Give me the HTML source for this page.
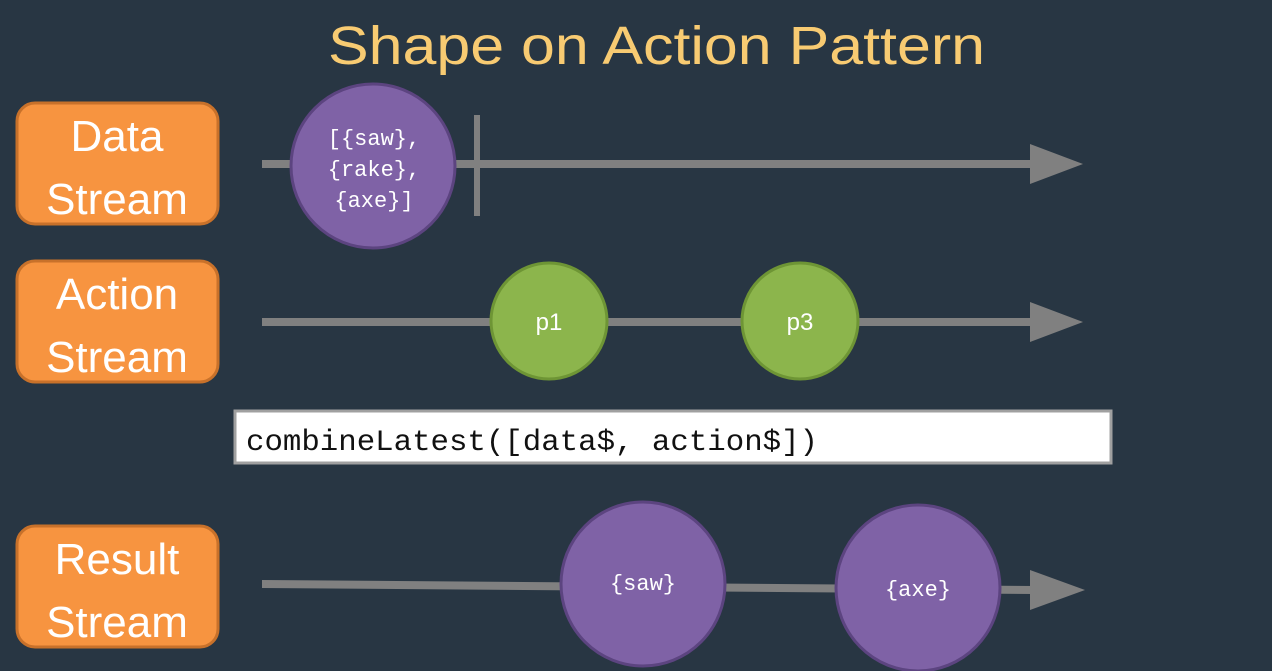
<!DOCTYPE html>
<html><head><meta charset="utf-8"><style>
html,body{margin:0;padding:0;background:#283643;}
svg{display:block;}
</style></head><body>
<svg width="1272" height="671" viewBox="0 0 1272 671" xmlns="http://www.w3.org/2000/svg">
<rect width="1272" height="671" fill="#283643"/>
<text x="328" y="64" font-family="Liberation Sans, sans-serif" font-size="54" fill="#f8cb72" textLength="657" lengthAdjust="spacingAndGlyphs">Shape on Action Pattern</text>

<g font-family="Liberation Sans, sans-serif" font-size="44" fill="#fff" text-anchor="middle">
<rect x="17" y="103" width="201" height="121" rx="18" fill="#f79440" stroke="#c8712a" stroke-width="3"/>
<text x="117" y="151">Data</text><text x="117" y="214">Stream</text>
<rect x="17" y="261" width="201" height="121" rx="18" fill="#f79440" stroke="#c8712a" stroke-width="3"/>
<text x="117" y="309">Action</text><text x="117" y="372">Stream</text>
<rect x="17" y="526" width="201" height="121" rx="18" fill="#f79440" stroke="#c8712a" stroke-width="3"/>
<text x="117" y="574">Result</text><text x="117" y="637">Stream</text>
</g>

<rect x="262" y="160" width="772" height="8" fill="#808080"/>
<polygon points="1030,144 1083,164 1030,184" fill="#808080"/>
<rect x="474" y="115" width="6" height="101" fill="#808080"/>
<circle cx="373" cy="166" r="82" fill="#7f62a6" stroke="#5c4480" stroke-width="3"/>
<g font-family="Liberation Mono, monospace" font-size="22" fill="#fff" text-anchor="middle">
<text x="374" y="145">[{saw},</text><text x="374" y="176">{rake},</text><text x="374" y="207">{axe}]</text>
</g>

<rect x="262" y="318" width="772" height="8" fill="#808080"/>
<polygon points="1030,302 1083,322 1030,342" fill="#808080"/>
<circle cx="549" cy="321" r="58" fill="#8cb54c" stroke="#6e9535" stroke-width="3"/>
<circle cx="800" cy="321" r="58" fill="#8cb54c" stroke="#6e9535" stroke-width="3"/>
<g font-family="Liberation Sans, sans-serif" font-size="24" fill="#fff" text-anchor="middle">
<text x="549" y="330">p1</text><text x="800" y="330">p3</text>
</g>

<rect x="235" y="411" width="876" height="52" fill="#fff" stroke="#a0a0a0" stroke-width="3"/>
<text x="246" y="450" font-family="Liberation Mono, monospace" font-size="30" fill="#111" textLength="572" lengthAdjust="spacingAndGlyphs">combineLatest([data$, action$])</text>

<polygon points="262,580 1034,586 1034,594 262,588" fill="#808080"/>
<polygon points="1030,570 1085,590 1030,610" fill="#808080"/>
<ellipse cx="643" cy="584" rx="82" ry="82" fill="#7f62a6" stroke="#5c4480" stroke-width="3"/>
<ellipse cx="918" cy="588" rx="82" ry="83" fill="#7f62a6" stroke="#5c4480" stroke-width="3"/>
<g font-family="Liberation Mono, monospace" font-size="22" fill="#fff" text-anchor="middle">
<text x="643" y="590">{saw}</text><text x="918" y="596">{axe}</text>
</g>
</svg>
</body></html>
